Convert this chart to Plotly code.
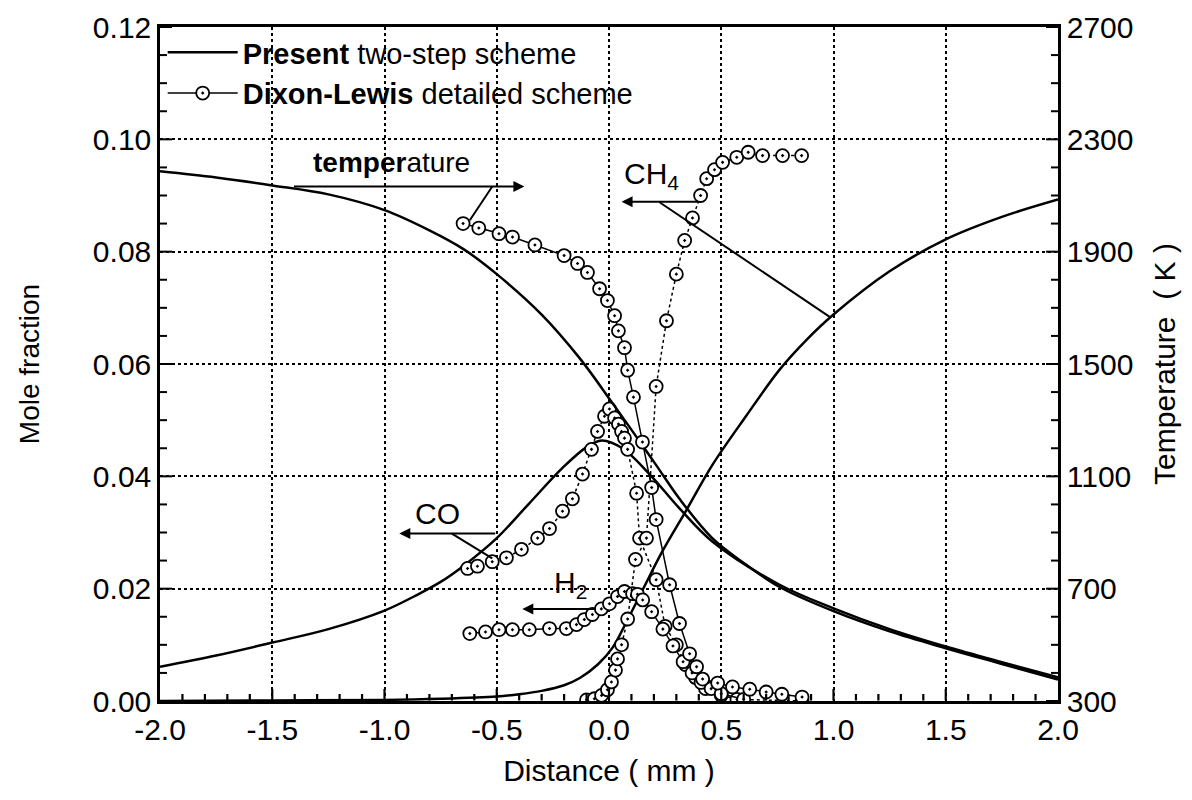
import plotly.graph_objects as go

# ---------------- data ----------------
# Present two-step scheme (solid lines)
temp_x = [-2.0, -1.75, -1.5, -1.25, -1.0, -0.8, -0.65, -0.5, -0.3, -0.13, 0.016, 0.105, 0.21, 0.314, 0.46, 0.61, 0.76, 1.0, 1.25, 1.5, 1.75, 2.0]
temp_K = [2186, 2164, 2136, 2104, 2048, 1976, 1910, 1820, 1676, 1520, 1360, 1260, 1140, 1020, 880, 786, 706, 620, 548, 488, 432, 376]

co_x = [-2.0, -1.75, -1.5, -1.25, -1.0, -0.85, -0.75, -0.65, -0.5, -0.355, -0.207, -0.1, -0.033, 0.06, 0.18, 0.314, 0.46, 0.76, 1.0, 1.25, 1.5, 1.75, 2.0]
co_y = [0.0061, 0.0081, 0.0104, 0.0128, 0.0161, 0.0190, 0.0212, 0.0240, 0.0290, 0.0352, 0.0415, 0.0452, 0.0464, 0.0450, 0.0404, 0.0343, 0.0284, 0.0207, 0.0165, 0.0128, 0.0097, 0.0069, 0.0042]

ch4_x = [-2.0, -1.5, -1.0, -0.75, -0.5, -0.4, -0.3, -0.2, -0.13, -0.05, 0.016, 0.083, 0.15, 0.24, 0.345, 0.46, 0.61, 0.76, 0.88, 1.0, 1.25, 1.5, 1.75, 2.0]
ch4_y = [0.0, 0.0001, 0.0002, 0.0004, 0.0008, 0.0012, 0.0018, 0.0028, 0.0041, 0.0065, 0.0095, 0.0145, 0.0198, 0.0268, 0.0340, 0.0420, 0.0507, 0.0590, 0.0643, 0.0688, 0.0765, 0.0822, 0.0862, 0.0893]

# Dixon-Lewis detailed scheme (circles)
dl_temp_x = [-0.65, -0.58, -0.49, -0.43, -0.33, -0.2, -0.14, -0.096, -0.042, -0.007, 0.025, 0.042, 0.069, 0.083, 0.109, 0.149, 0.19, 0.21, 0.27, 0.314, 0.359, 0.39, 0.417, 0.484, 0.55, 0.627, 0.70, 0.77, 0.86]
dl_temp_K = [2000, 1984, 1964, 1952, 1924, 1886, 1858, 1826, 1768, 1726, 1672, 1618, 1558, 1478, 1382, 1222, 1060, 946, 714, 576, 468, 422, 378, 364, 350, 342, 332, 324, 314]

dl_co_x = [-0.63, -0.586, -0.52, -0.457, -0.39, -0.318, -0.265, -0.207, -0.163, -0.118, -0.078, -0.051, -0.02, 0.002, 0.025, 0.042, 0.056, 0.069, 0.083, 0.123, 0.136, 0.21, 0.25, 0.30, 0.34, 0.385, 0.43, 0.50, 0.57, 0.86]
dl_co_y = [0.0236, 0.0240, 0.0248, 0.0255, 0.0270, 0.0290, 0.0307, 0.0338, 0.0360, 0.0404, 0.0448, 0.0480, 0.0507, 0.0520, 0.0504, 0.0493, 0.0480, 0.0468, 0.0448, 0.0370, 0.0290, 0.0216, 0.0133, 0.0100, 0.0065, 0.0042, 0.0022, 0.0010, 0.0003, 0.0000]

dl_h2_x = [-0.62, -0.55, -0.49, -0.43, -0.355, -0.265, -0.19, -0.145, -0.11, -0.074, -0.034, 0.002, 0.038, 0.069, 0.105, 0.127, 0.15, 0.19, 0.24, 0.285, 0.33, 0.37, 0.41, 0.455, 0.50, 0.60]
dl_h2_y = [0.0120, 0.0123, 0.0127, 0.0127, 0.0127, 0.0129, 0.0129, 0.0136, 0.0145, 0.0154, 0.0164, 0.0173, 0.0186, 0.0195, 0.0191, 0.0190, 0.0180, 0.0159, 0.0128, 0.0098, 0.0070, 0.0050, 0.0033, 0.0022, 0.0013, 0.0003]

dl_ch4_x = [-0.10, -0.065, -0.033, -0.007, 0.011, 0.029, 0.038, 0.056, 0.083, 0.118, 0.167, 0.21, 0.256, 0.30, 0.337, 0.372, 0.408, 0.435, 0.47, 0.506, 0.569, 0.62, 0.684, 0.773, 0.858]
dl_ch4_y = [0.0002, 0.0004, 0.0010, 0.0020, 0.0034, 0.0055, 0.0075, 0.0100, 0.0146, 0.0252, 0.0290, 0.0560, 0.0677, 0.0760, 0.0820, 0.0860, 0.0900, 0.0930, 0.0946, 0.0959, 0.0968, 0.0977, 0.0971, 0.0971, 0.0971]

x_ticks = [-2.0, -1.5, -1.0, -0.5, 0.0, 0.5, 1.0, 1.5, 2.0]
y_ticks = [0.00, 0.02, 0.04, 0.06, 0.08, 0.10, 0.12]
t_ticks = [300, 700, 1100, 1500, 1900, 2300, 2700]
x_minor_step, y_minor_step, t_minor_step = 0.1, 0.005, 100

# annotation geometry (data coordinates)
labels = [  # (text, x, y, size)
    ("<b>temper</b>ature", -0.97, 0.0959, 28),
    ("CH<sub>4</sub>", 0.19, 0.0935, 30),
    ("CO", -0.765, 0.0334, 30),
    ("H<sub>2</sub>", -0.17, 0.0207, 30),
]
arrows = [  # (head_x, head_y, tail_x, tail_y)
    (-0.377, 0.0916, -1.41, 0.0916),
    (0.056, 0.0889, 0.403, 0.0889),
    (-0.934, 0.0298, -0.50, 0.0298),
    (-0.386, 0.0164, -0.051, 0.0164),
]
pointers = [  # (x0, y0, x1, y1)
    (-0.52, 0.0916, -0.62, 0.0856),
    (0.225, 0.0888, 0.983, 0.0684),
    (-0.70, 0.0298, -0.52, 0.0254),
]

FONT = "Liberation Sans, Arial, sans-serif"
BLACK = "black"
W, H = 1192, 800
M = dict(l=160, r=134, t=27, b=99)

fig = go.Figure()

solid = dict(color=BLACK, width=2.5)
marker = dict(symbol="circle-dot", size=13, color="white", line=dict(color=BLACK, width=1.8))

fig.add_trace(go.Scatter(x=temp_x, y=temp_K, yaxis="y2", mode="lines", line=dict(shape="spline", **solid),
                         name="<b>Present</b> two-step scheme", showlegend=True))
fig.add_trace(go.Scatter(x=co_x, y=co_y, mode="lines", line=dict(shape="spline", **solid), showlegend=False))
fig.add_trace(go.Scatter(x=ch4_x, y=ch4_y, mode="lines", line=dict(shape="spline", **solid), showlegend=False))

fig.add_trace(go.Scatter(x=dl_co_x, y=dl_co_y, mode="lines+markers", line=dict(color=BLACK, width=1.5, dash="dot"),
                         marker=marker, showlegend=False))
fig.add_trace(go.Scatter(x=dl_h2_x, y=dl_h2_y, mode="lines+markers", line=dict(color=BLACK, width=1.5),
                         marker=marker, showlegend=False))
fig.add_trace(go.Scatter(x=dl_ch4_x, y=dl_ch4_y, mode="lines+markers", line=dict(color=BLACK, width=1.5, dash="dot"),
                         marker=marker, showlegend=False))
fig.add_trace(go.Scatter(x=dl_temp_x, y=dl_temp_K, yaxis="y2", mode="lines+markers", line=dict(color=BLACK, width=1.5),
                         marker=marker, name="<b>Dixon-Lewis</b> detailed scheme", showlegend=True))

annotations = []
for txt, x, y, sz in labels:
    annotations.append(dict(text=txt, x=x, y=y, xref="x", yref="y", showarrow=False,
                            font=dict(family=FONT, size=sz, color=BLACK)))
for hx, hy, tx, ty in arrows:
    annotations.append(dict(text="", x=hx, y=hy, ax=tx, ay=ty, xref="x", yref="y", axref="x", ayref="y",
                            showarrow=True, arrowhead=2, arrowsize=1.1, arrowwidth=2, arrowcolor=BLACK,
                            standoff=0, startstandoff=0))
shapes = []
for x0, y0, x1, y1 in pointers:
    shapes.append(dict(type="line", x0=x0, y0=y0, x1=x1, y1=y1, xref="x", yref="y",
                       line=dict(color=BLACK, width=2)))

# inside tick marks, placed on the axes' own scales
MAJ, MIN = 12, 7
tick_line = dict(color=BLACK, width=2)
plot_h = H - M["t"] - M["b"]
y_per_px = (y_ticks[-1] - y_ticks[0]) / plot_h


def frange(a, b, step):
    n = int(round((b - a) / step))
    return [round(a + i * step, 6) for i in range(n + 1)]


# bottom axis ticks as one path (vertical strokes) in data coordinates
segs = []
for v in frange(x_ticks[0], x_ticks[-1], x_minor_step)[1:-1]:
    ln = MAJ if any(abs(v - t) < 1e-9 for t in x_ticks) else MIN
    segs.append(f"M{v},{y_ticks[0] + 0.0001} L{v},{y_ticks[0] + ln * y_per_px}")
shapes.append(dict(type="path", xref="x", yref="y", path=" ".join(segs),
                   line=dict(color=BLACK, width=2.2), layer="above"))

for v in frange(y_ticks[0], y_ticks[-1], y_minor_step):
    ln = MAJ if any(abs(v - t) < 1e-9 for t in y_ticks) else MIN
    shapes.append(dict(type="line", xref="x domain", yref="y", xsizemode="pixel", xanchor=0,
                       x0=0, x1=ln, y0=v, y1=v, line=tick_line, layer="above"))
for v in frange(t_ticks[0], t_ticks[-1], t_minor_step):
    ln = MAJ if any(abs(v - t) < 1e-9 for t in t_ticks) else MIN
    shapes.append(dict(type="line", xref="x domain", yref="y2", xsizemode="pixel", xanchor=1,
                       x0=-ln, x1=0, y0=v, y1=v, line=tick_line, layer="above"))

tickfont = dict(family=FONT, size=30, color=BLACK)

fig.update_layout(
    template="none",
    width=W, height=H,
    margin=M,
    paper_bgcolor="white", plot_bgcolor="white",
    font=dict(family=FONT, color=BLACK),
    showlegend=True,
    legend=dict(x=0.003, y=1.0, xanchor="left", yanchor="top", bgcolor="rgba(0,0,0,0)",
                font=dict(family=FONT, size=29, color=BLACK), itemwidth=70, tracegroupgap=0),
    annotations=annotations,
    shapes=shapes,
    xaxis=dict(range=[-2, 2], tickmode="array", tickvals=x_ticks, ticktext=[f"{v:.1f}" for v in x_ticks],
               ticks="", showline=True, linewidth=2.5, linecolor=BLACK, mirror=True,
               showgrid=True, gridcolor=BLACK, gridwidth=1.5, griddash="dot",
               zeroline=False, tickfont=tickfont, automargin=False,
               title=dict(text="Distance ( mm )", font=dict(family=FONT, size=30, color=BLACK), standoff=16)),
    yaxis=dict(range=[0, 0.12], tickmode="array", tickvals=y_ticks, ticktext=[f"{v:.2f}" for v in y_ticks],
               ticks="", showline=True, linewidth=2.5, linecolor=BLACK,
               showgrid=True, gridcolor=BLACK, gridwidth=1.5, griddash="dot",
               zeroline=False, tickfont=tickfont, automargin=False,
               title=dict(text="Mole fraction", font=dict(family=FONT, size=28, color=BLACK), standoff=46)),
    yaxis2=dict(range=[300, 2700], overlaying="y", side="right", tickmode="array", tickvals=t_ticks,
                ticks="", showline=True, linewidth=2.5, linecolor=BLACK, showgrid=False, zeroline=False,
                tickfont=tickfont, automargin=False,
                title=dict(text="Temperature  ( K )", font=dict(family=FONT, size=30, color=BLACK), standoff=22)),
)

fig.write_html("out.html")
